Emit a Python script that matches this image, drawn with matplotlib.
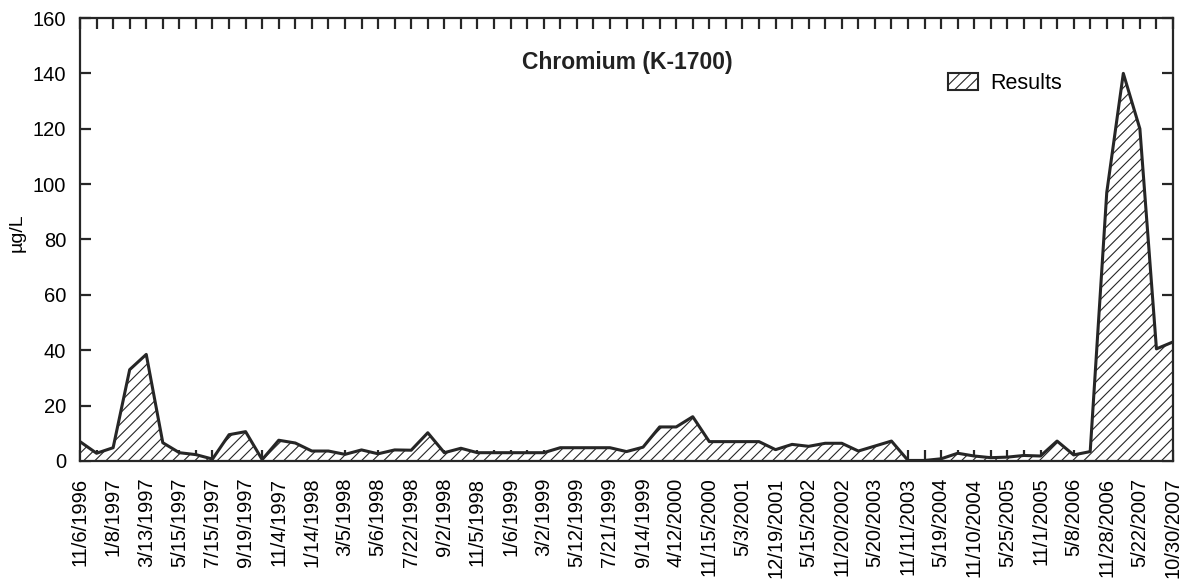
import matplotlib
matplotlib.use("Agg")
import matplotlib.pyplot as plt
from matplotlib.patches import Patch

plt.rcParams['font.family'] = ['Liberation Sans', 'DejaVu Sans']
plt.rcParams['hatch.linewidth'] = 0.8

# sampling dates (only every other one is printed on the axis)
date_labels = ["11/6/1996", "1/8/1997", "3/13/1997", "5/15/1997", "7/15/1997",
               "9/19/1997", "11/4/1997", "1/14/1998", "3/5/1998", "5/6/1998",
               "7/22/1998", "9/2/1998", "11/5/1998", "1/6/1999", "3/2/1999",
               "5/12/1999", "7/21/1999", "9/14/1999", "4/12/2000", "11/15/2000",
               "5/3/2001", "12/19/2001", "5/15/2002", "11/20/2002", "5/20/2003",
               "11/11/2003", "5/19/2004", "11/10/2004", "5/25/2005", "11/1/2005",
               "5/8/2006", "11/28/2006", "5/22/2007", "10/30/2007"]

# chromium results, ug/L, one per sampling event
results = [7.0, 2.8, 4.8, 33, 38.5, 6.6, 3.0, 2.3, 0.7, 9.5,
           10.6, 0.5, 7.5, 6.5, 3.6, 3.6, 2.4, 4.0, 2.6, 4.0,
           3.9, 10.2, 3.0, 4.6, 3.0, 3.0, 3.0, 3.0, 3.0, 4.8,
           4.8, 4.8, 4.8, 3.4, 5.0, 12.3, 12.3, 16.0, 7.0, 7.0,
           7.0, 7.0, 4.1, 6.0, 5.3, 6.4, 6.4, 3.6, 5.4, 7.2,
           0.2, 0.2, 0.8, 2.8, 1.8, 1.2, 1.4, 2.0, 1.8, 7.2,
           2.2, 3.4, 97, 140, 120, 40.5, 43]

ink = '#262626'
x = list(range(len(results)))

fig = plt.figure(figsize=(11.82, 5.84), dpi=100)
ax = fig.add_axes([80 / 1182, 1 - 461 / 584, 1093 / 1182, 443 / 584])

ax.fill_between(x, results, 0, facecolor='white', edgecolor=ink,
                hatch='///', linewidth=0, zorder=2)
ax.plot(x, results, color=ink, lw=2.2, zorder=3)

ax.set_xlim(0, len(results) - 1)
ax.set_ylim(0, 160)
ax.set_yticks(range(0, 161, 20))

ticklabels = []
for i in x:
    ticklabels.append(date_labels[i // 2] if i % 2 == 0 else "")
ax.set_xticks(x)
ax.set_xticklabels(ticklabels, rotation=90, fontsize=14.5)

for s in ax.spines.values():
    s.set_linewidth(1.6)
    s.set_color(ink)
    s.set_zorder(4)

ax.tick_params(axis='both', direction='in', length=8, width=1.6,
               color=ink, top=True, right=True, labelsize=14.5)
ax.tick_params(axis='x', pad=12)
ax.tick_params(axis='y', pad=10)

ax.set_ylabel("µg/L", fontsize=14)
ax.yaxis.set_label_coords(-0.050, 0.515)

ax.text(0.501, 0.90, "Chromium (K-1700)", transform=ax.transAxes,
        ha='center', va='center', fontsize=16.5, fontweight='bold', color='#222')

handle = Patch(facecolor='white', edgecolor=ink, hatch='///', linewidth=1.5)
ax.legend([handle], ["Results"], loc='upper left', bbox_to_anchor=(0.776, 0.92),
          frameon=False, fontsize=15.5, handlelength=1.4, handleheight=0.85,
          handletextpad=0.6)

fig.savefig("out.png", dpi=100, facecolor='white')
